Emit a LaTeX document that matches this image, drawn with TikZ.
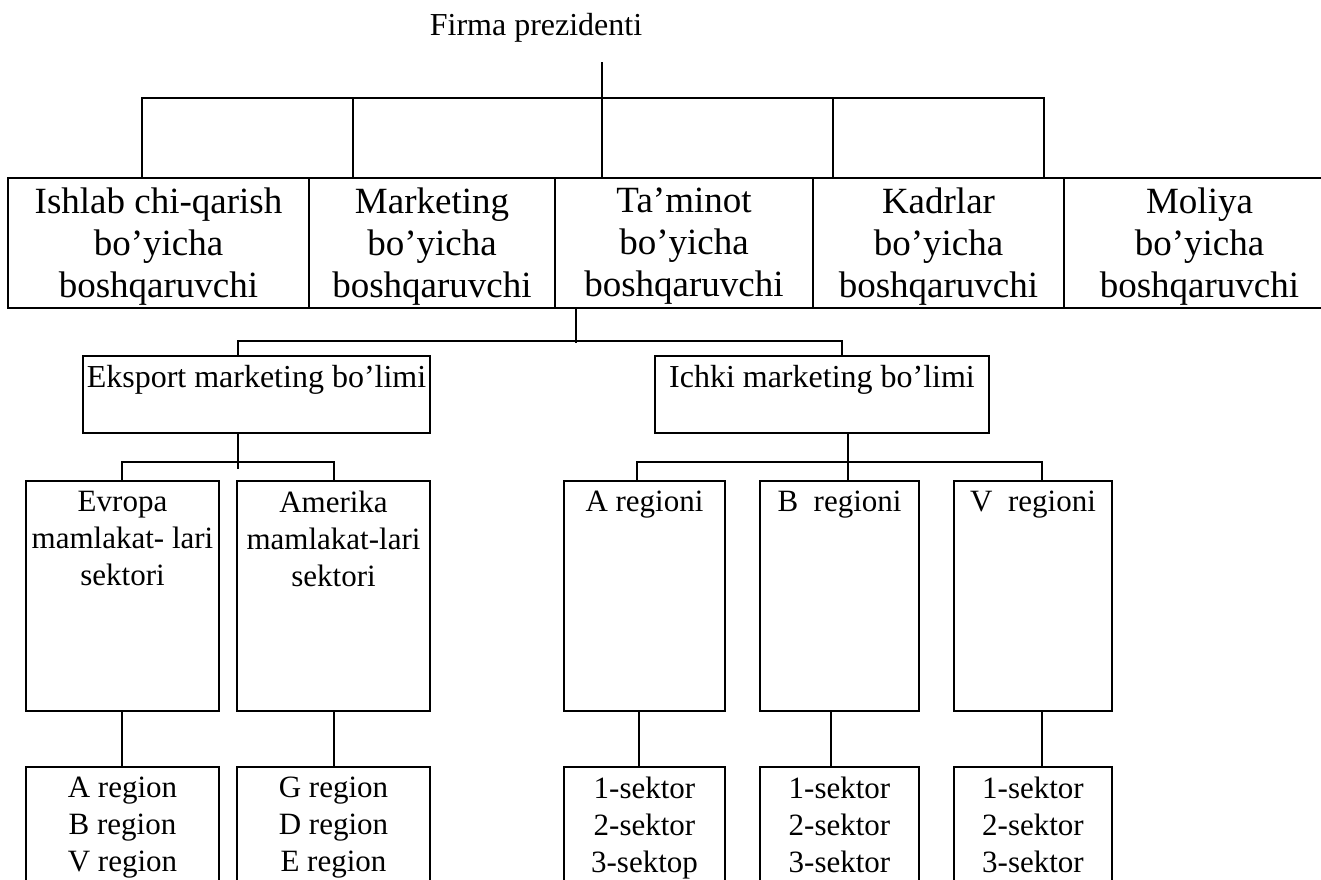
\documentclass[tikz,border=0pt]{standalone}
\usepackage{fontspec}
\setmainfont{Liberation Serif}
% top-aligned, centred lines inside a box of fixed size
\newcommand{\boxlines}[3]{\parbox[c][#1][t]{#2}{\centering\vspace*{10pt}#3}}
\begin{document}
\begin{tikzpicture}[x=1pt,y=-1pt,
  line width=2pt,
  every node/.style={inner sep=0pt,outer sep=0pt},
  unit/.style={draw,anchor=north west},
  topfont/.style={font=\fontsize{37}{42}\selectfont},
  midfont/.style={font=\fontsize{32}{37}\selectfont},
  lowfont/.style={font=\fontsize{31}{37}\selectfont}]
\useasboundingbox (0,0) rectangle (1321,879);
\clip (0,0) rectangle (1321,879);

% president
\node[midfont,anchor=base] (pres) at (536,35) {Firma prezidenti};
\coordinate (pstub) at (602,62);

% managers
\node[unit,topfont] (prod) at (8,177.5)    {\boxlines{130.5pt}{301pt}{Ishlab chi-qarish\\bo’yicha\\boshqaruvchi}};
\node[unit,topfont] (mark) at (309,177.5)  {\boxlines{130.5pt}{246pt}{Marketing\\bo’yicha\\boshqaruvchi}};
\node[unit,topfont] (tam)  at (555,177.5)  {\boxlines{130.5pt}{258pt}{Ta’minot\\bo’yicha\\boshqaruvchi}};
\node[unit,topfont] (kadr) at (813,177.5)  {\boxlines{130.5pt}{251pt}{Kadrlar\\bo’yicha\\boshqaruvchi}};
\node[unit,topfont] (mol)  at (1064,177.5) {\boxlines{130.5pt}{271pt}{Moliya\\bo’yicha\\boshqaruvchi}};

% departments
\node[unit,midfont] (eks)   at (83,355.5)  {\boxlines{77.5pt}{347pt}{Eksport marketing bo’limi}};
\node[unit,midfont] (ichki) at (655,355.5) {\boxlines{77.5pt}{334pt}{Ichki marketing bo’limi}};

% sectors and regions
\node[unit,lowfont] (evr) at (26,481)  {\boxlines{230pt}{193pt}{Evropa\\mamlakat- lari\\sektori}};
\node[unit,lowfont] (ame) at (237,481) {\boxlines{230pt}{193pt}{Amerika\\mamlakat-lari\\sektori}};
\node[unit,lowfont] (ra)  at (564,481) {\boxlines{230pt}{161pt}{A regioni}};
\node[unit,lowfont] (rb)  at (760,481) {\boxlines{230pt}{159pt}{B\ \ regioni}};
\node[unit,lowfont] (rv)  at (954,481) {\boxlines{230pt}{158pt}{V\ \ regioni}};

% lowest level
\node[unit,lowfont] (evrl) at (26,767)  {\boxlines{125pt}{193pt}{A region\\B region\\V region}};
\node[unit,lowfont] (amel) at (237,767) {\boxlines{125pt}{193pt}{G region\\D region\\E region}};
\node[unit,lowfont] (ral)  at (564,767) {\boxlines{125pt}{161pt}{1-sektor\\2-sektor\\3-sektop}};
\node[unit,lowfont] (rbl)  at (760,767) {\boxlines{125pt}{159pt}{1-sektor\\2-sektor\\3-sektor}};
\node[unit,lowfont] (rvl)  at (954,767) {\boxlines{125pt}{158pt}{1-sektor\\2-sektor\\3-sektor}};

% president -> managers
\coordinate (d1) at (142,98);
\coordinate (d2) at (353,98);
\coordinate (d3) at (602,98);
\coordinate (d4) at (833,98);
\coordinate (d5) at (1044,98);
\draw (pstub) -- (d3);
\draw (d1 |- prod.north) -- (d1) -- (d5) -- (d5 |- mol.north);
\draw (d2) -- (d2 |- mark.north);
\draw (d3) -- (d3 |- tam.north);
\draw (d4) -- (d4 |- kadr.north);

% manager -> departments
\coordinate (m0) at (576,343);
\coordinate (e0) at (238,341);
\coordinate (i0) at (842,341);
\draw (m0 |- tam.south) -- (m0);
\draw (e0 |- eks.north) -- (e0) -- (i0) -- (i0 |- ichki.north);

% export department -> sectors (stem runs a little past the bar)
\coordinate (es) at (238,469);
\coordinate (e1) at (122,462);
\coordinate (e2) at (334,462);
\draw (es |- eks.south) -- (es);
\draw (e1 |- evr.north) -- (e1) -- (e2) -- (e2 |- ame.north);

% home department -> regions
\coordinate (is) at (848,462);
\coordinate (i1) at (637,462);
\coordinate (i3) at (1042,462);
\draw (is |- ichki.south) -- (is |- rb.north);
\draw (i1 |- ra.north) -- (i1) -- (i3) -- (i3 |- rv.north);

% sectors/regions -> lowest level
\coordinate (l1) at (122,740);
\coordinate (l2) at (334,740);
\coordinate (l3) at (639,740);
\coordinate (l4) at (831,740);
\coordinate (l5) at (1042,740);
\draw (l1 |- evr.south) -- (l1 |- evrl.north);
\draw (l2 |- ame.south) -- (l2 |- amel.north);
\draw (l3 |- ra.south) -- (l3 |- ral.north);
\draw (l4 |- rb.south) -- (l4 |- rbl.north);
\draw (l5 |- rv.south) -- (l5 |- rvl.north);
\end{tikzpicture}
\end{document}
